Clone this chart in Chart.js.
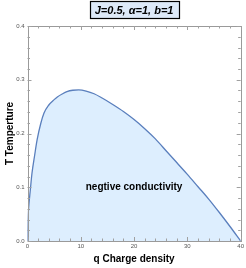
<!DOCTYPE html>
<html>
<head>
<meta charset="utf-8">
<script src="https://cdn.jsdelivr.net/npm/chart.js@4"></script>
<style>
html,body{margin:0;padding:0;background:#fff;}
#wrap{width:246px;height:268px;position:relative;}
</style>
</head>
<body>
<div id="wrap"><canvas id="c" width="246" height="268"></canvas></div>
<script>
// ---- data ----
const qValues = [0, 0.04, 0.22, 0.53, 0.84, 1.35, 1.8, 2.5, 3.1, 4, 5, 5.6, 6.5, 7.4, 8.5, 9.6, 11, 12.5, 14, 16, 18, 20, 22, 24, 26, 28, 30, 32, 34, 36, 38, 40];
const tValues = [0, 0.027, 0.062, 0.095, 0.126, 0.160, 0.188, 0.219, 0.238, 0.253, 0.263, 0.268, 0.2735, 0.278, 0.2805, 0.281, 0.279, 0.274, 0.266, 0.254, 0.241, 0.226, 0.209, 0.19, 0.168, 0.146, 0.124, 0.101, 0.078, 0.053, 0.027, 0];
const xTickLabels = [0, 10, 20, 30, 40];
const yTickLabels = [0.0, 0.1, 0.2, 0.3, 0.4];
const titleText = 'J=0.5, \u03B1=1, b=1';
const xTitle = 'q Charge density';
const yTitle = 'T Temperture';
const regionLabel = 'negtive conductivity';

const points = qValues.map((q, i) => ({x: q, y: tValues[i]}));
const FONT = '"Liberation Sans", Arial, sans-serif';

const framePlugin = {
  id: 'frameTicks',
  afterDatasetsDraw(chart) {
    const {ctx, chartArea: a, scales: {x, y}} = chart;
    ctx.save();
    ctx.strokeStyle = '#9a9a9a';
    ctx.lineWidth = 1;
    ctx.strokeRect(Math.round(a.left) + 0.5, Math.round(a.top) + 0.5, Math.round(a.right - a.left), Math.round(a.bottom - a.top));
    ctx.strokeStyle = '#a0a0a0';
    ctx.beginPath();
    x.ticks.forEach(t => {
      const px = Math.round(x.getPixelForValue(t.value)) + 0.5;
      const major = xTickLabels.some(v => Math.abs(v - t.value) < 1e-6);
      const len = major ? 4 : 2.5;
      ctx.moveTo(px, a.bottom); ctx.lineTo(px, a.bottom - len);
      ctx.moveTo(px, a.top); ctx.lineTo(px, a.top + len);
    });
    y.ticks.forEach(t => {
      const py = Math.round(y.getPixelForValue(t.value)) + 0.5;
      const major = yTickLabels.some(v => Math.abs(v - t.value) < 1e-6);
      const len = major ? 4 : 2.5;
      ctx.moveTo(a.left, py); ctx.lineTo(a.left + len, py);
      ctx.moveTo(a.right, py); ctx.lineTo(a.right - len, py);
    });
    ctx.stroke();
    // region label
    ctx.fillStyle = '#000';
    ctx.font = 'bold 10px ' + FONT;
    ctx.textAlign = 'center';
    ctx.textBaseline = 'middle';
    ctx.fillText(regionLabel, x.getPixelForValue(20), y.getPixelForValue(0.1));
    ctx.restore();
  },
  afterDraw(chart) {
    const ctx = chart.ctx;
    const a = chart.chartArea;
    ctx.save();
    ctx.font = 'italic bold 11px ' + FONT;
    const w = ctx.measureText(titleText).width;
    const cx = (a.left + a.right) / 2;
    const bw = Math.round(w + 10);
    const bx = Math.round(cx - bw / 2) + 0.5;
    const by = 1.5;
    ctx.fillStyle = '#dde9f8';
    ctx.fillRect(bx, by, bw, 17);
    ctx.strokeStyle = '#000';
    ctx.lineWidth = 1.2;
    ctx.strokeRect(bx, by, bw, 17);
    ctx.fillStyle = '#000';
    ctx.textAlign = 'center';
    ctx.textBaseline = 'middle';
    ctx.fillText(titleText, cx, by + 9);
    ctx.restore();
  }
};

new Chart(document.getElementById('c'), {
  type: 'line',
  data: {
    datasets: [{
      data: points,
      borderColor: '#5a7fbd',
      borderWidth: 1.3,
      backgroundColor: '#ddeefe',
      fill: 'origin',
      pointRadius: 0,
      cubicInterpolationMode: 'monotone'
    }]
  },
  options: {
    responsive: false,
    animation: false,
    layout: {padding: {left: 0, right: 4.5, top: 26, bottom: 0}},
    plugins: {
      legend: {display: false},
      tooltip: {enabled: false},
      title: {display: false}
    },
    scales: {
      x: {
        type: 'linear', min: 0, max: 40,
        border: {display: false},
        grid: {display: false, drawTicks: false},
        afterFit: s => { s.height = 27; },
        ticks: {
          stepSize: 2, autoSkip: false, maxRotation: 0, padding: 2,
          color: '#555', font: {family: FONT, size: 6},
          callback: v => xTickLabels.includes(v) ? String(v) : ''
        },
        title: {
          display: true, text: xTitle, color: '#000',
          font: {family: FONT, size: 10, weight: 'bold'},
          padding: {top: 4, bottom: 3}
        }
      },
      y: {
        type: 'linear', min: 0, max: 0.4,
        border: {display: false},
        grid: {display: false, drawTicks: false},
        afterFit: s => { s.width = 27.5; },
        ticks: {
          stepSize: 0.02, autoSkip: false, padding: 3,
          color: '#555', font: {family: FONT, size: 6},
          callback: v => {
            const m = yTickLabels.find(t => Math.abs(t - v) < 1e-6);
            return m !== undefined ? m.toFixed(1) : '';
          }
        },
        title: {
          display: true, text: yTitle, color: '#000',
          font: {family: FONT, size: 10, weight: 'bold'},
          padding: {top: 4, bottom: 2}
        }
      }
    }
  },
  plugins: [framePlugin]
});
</script>
</body>
</html>
